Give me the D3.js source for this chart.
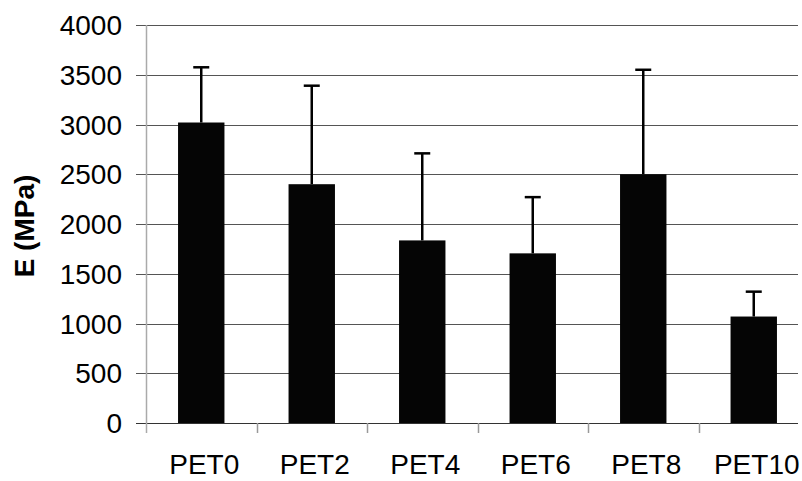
<!DOCTYPE html>
<html>
<head>
<meta charset="utf-8">
<script src="https://cdn.jsdelivr.net/npm/d3@7"></script>
<style>
html,body{margin:0;padding:0;background:#fff;}
svg{display:block;font-family:"Liberation Sans",Arial,Helvetica,sans-serif;}
</style>
</head>
<body>
<svg id="chart" width="802" height="481"></svg>
<script>
const categories = ["PET0","PET2","PET4","PET6","PET8","PET10"];
const meanValues = [3020, 2400, 1835, 1705, 2500, 1070];
const errorUpper = [3575, 3390, 2710, 2270, 3550, 1320];
const yTicks = [0,500,1000,1500,2000,2500,3000,3500,4000];
const yTitle = "E (MPa)";

(function () {
const svg = d3.select("#chart");
const pLeft = 146, pRight = 809, pTop = 25, pBottom = 423;

const x = d3.scaleBand().domain(categories).range([pLeft, pRight]).paddingInner(0.58).paddingOuter(0.29);
const xStep = x.step();
const y = d3.scaleLinear().domain([0, 4000]).range([pBottom, pTop]);

// gridlines (extend left as ticks)
svg.append("g").selectAll("line").data(yTicks).join("line")
  .attr("x1", pLeft - 10).attr("x2", 798)
  .attr("y1", d => Math.round(y(d)) + 0.5).attr("y2", d => Math.round(y(d)) + 0.5)
  .attr("stroke", d => d === 0 ? "#333" : "#555").attr("stroke-width", 1);

// left axis line
svg.append("line").attr("x1", pLeft + 0.5).attr("x2", pLeft + 0.5)
  .attr("y1", pTop).attr("y2", pBottom + 10).attr("stroke", "#aaa").attr("stroke-width", 1.5);

// category ticks
const bounds = categories.map((c, i) => pLeft + i * xStep);
svg.append("g").selectAll("line").data(bounds.slice(1)).join("line")
  .attr("x1", d => Math.round(d) + 0.5).attr("x2", d => Math.round(d) + 0.5)
  .attr("y1", pBottom).attr("y2", pBottom + 10)
  .attr("stroke", "#999").attr("stroke-width", 1.5);

// y tick labels
svg.append("g").selectAll("text").data(yTicks).join("text")
  .attr("x", 122).attr("y", d => y(d)).attr("dy", "0.36em")
  .attr("text-anchor", "end").attr("font-size", 28).attr("fill", "#000")
  .text(d => d);

// bars
svg.append("g").selectAll("rect").data(categories).join("rect")
  .attr("x", d => x(d)).attr("width", x.bandwidth())
  .attr("y", (d, i) => y(meanValues[i]))
  .attr("height", (d, i) => y(0) - y(meanValues[i]))
  .attr("fill", "#050505");

// error bars
const eg = svg.append("g").attr("stroke", "#000").attr("stroke-width", 2.5);
categories.forEach((c, i) => {
  const cx = x(c) + x.bandwidth() / 2;
  eg.append("line").attr("x1", cx).attr("x2", cx)
    .attr("y1", y(meanValues[i])).attr("y2", y(errorUpper[i]));
  eg.append("line").attr("x1", cx - 8).attr("x2", cx + 8)
    .attr("y1", y(errorUpper[i])).attr("y2", y(errorUpper[i]));
});

// x labels
svg.append("g").selectAll("text").data(categories).join("text")
  .attr("x", d => x(d) + x.bandwidth() / 2 + 3).attr("y", 474)
  .attr("text-anchor", "middle").attr("font-size", 28).attr("fill", "#000")
  .text(d => d);

// y title
svg.append("text")
  .attr("transform", "translate(34,226) rotate(-90)")
  .attr("text-anchor", "middle").attr("font-size", 28).attr("font-weight", "bold")
  .attr("fill", "#000").text(yTitle);
})();
</script>
</body>
</html>
